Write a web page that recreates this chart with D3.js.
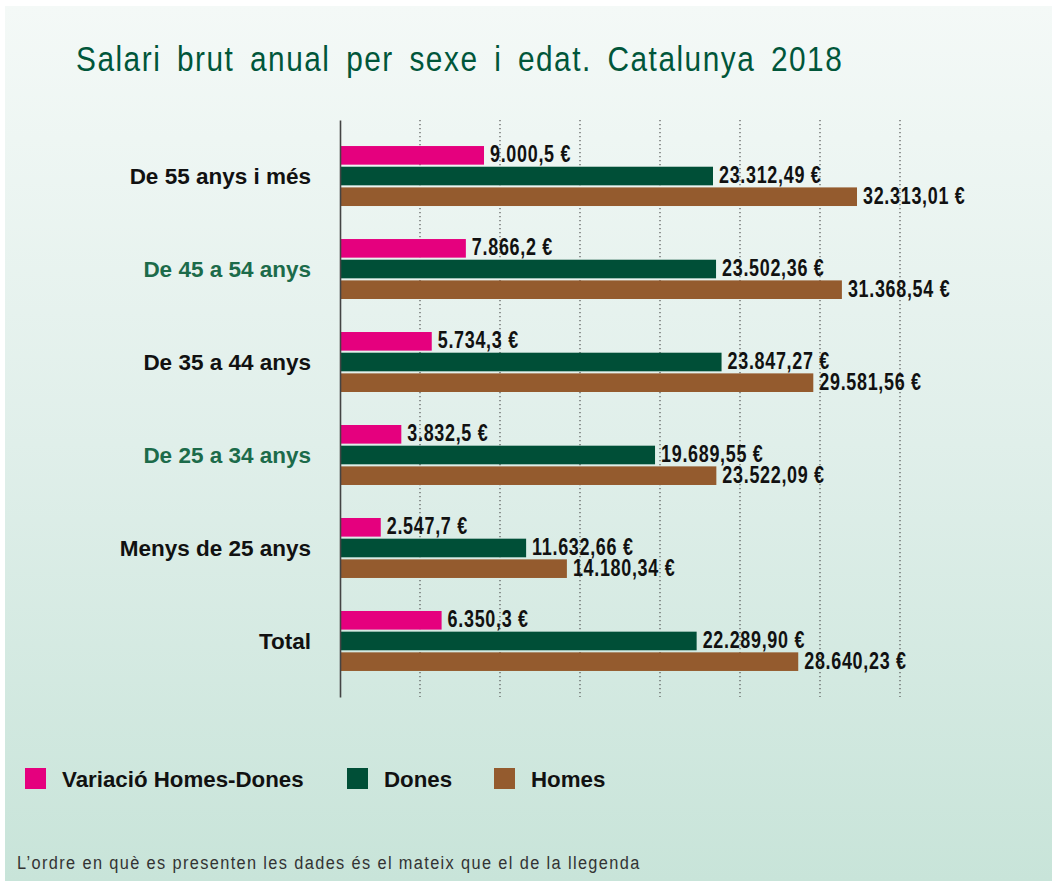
<!DOCTYPE html>
<html>
<head>
<meta charset="utf-8">
<script src="https://cdn.jsdelivr.net/npm/d3@7"></script>
<style>
  body { margin: 0; background: #fff; }
  svg { display: block; }
</style>
</head>
<body>
<script>
// data
var categories = ["De 55 anys i més", "De 45 a 54 anys", "De 35 a 44 anys", "De 25 a 34 anys", "Menys de 25 anys", "Total"]
var series = ["Variació Homes-Dones", "Dones", "Homes"]
var variacio = [9000.5, 7866.2, 5734.3, 3832.5, 2547.7, 6350.3]
var dones = [23312.49, 23502.36, 23847.27, 19689.55, 11632.66, 22289.90]
var homes = [32313.01, 31368.54, 29581.56, 23522.09, 14180.34, 28640.23]
var gridTicks = [5000, 10000, 15000, 20000, 25000, 30000, 35000]

var colors = {"Variació Homes-Dones": "#e5007e", "Dones": "#004f37", "Homes": "#945b2e"}
var decimals = {"Variació Homes-Dones": 1, "Dones": 2, "Homes": 2}
var greenCats = ["De 45 a 54 anys", "De 25 a 34 anys"]

var rows = categories.map(function(c, i) {
  return {cat: c, values: [
    {s: series[0], v: variacio[i]},
    {s: series[1], v: dones[i]},
    {s: series[2], v: homes[i]}
  ]}
})

var ca = d3.formatLocale({decimal: ",", thousands: ".", grouping: [3], currency: ["", ""]})
var fmt1 = ca.format(",.1f"), fmt2 = ca.format(",.2f")

var W = 1052, H = 881
var font = "'Liberation Sans', Arial, Helvetica, sans-serif"

var svg = d3.select("body").append("svg")
  .attr("width", W).attr("height", H)

// background gradient panel
var grad = svg.append("defs").append("linearGradient")
  .attr("id", "bg").attr("x1", 0).attr("y1", 0).attr("x2", 0).attr("y2", 1)
grad.append("stop").attr("offset", "0%").attr("stop-color", "#f4f9f7")
grad.append("stop").attr("offset", "50%").attr("stop-color", "#e0efea")
grad.append("stop").attr("offset", "100%").attr("stop-color", "#c8e4d9")

svg.append("rect")
  .attr("x", 5).attr("y", 6).attr("width", W - 5).attr("height", H - 6)
  .attr("fill", "url(#bg)")

// title (squeezed horizontally to fake a condensed face)
svg.append("text")
  .attr("transform", "translate(76,71) scale(0.84,1)")
  .attr("font-family", font)
  .attr("font-size", 35.5)
  .attr("letter-spacing", 1.8)
  .attr("word-spacing", 7)
  .attr("fill", "#00563a")
  .text("Salari brut anual per sexe i edat. Catalunya 2018")

var xScale = d3.scaleLinear().domain([0, 35000]).range([340, 900])

var yScale = d3.scaleBand()
  .domain(categories)
  .range([120, 697])
  .paddingInner(0.355)
  .paddingOuter(0.28)

var inner = d3.scaleBand()
  .domain(series)
  .range([0, yScale.bandwidth()])
  .paddingInner(0.1)

// dotted grid
svg.append("g").attr("id", "grid")
  .selectAll("line")
  .data(gridTicks)
  .enter()
  .append("line")
  .attr("x1", function(d) { return xScale(d) })
  .attr("x2", function(d) { return xScale(d) })
  .attr("y1", 120).attr("y2", 697)
  .attr("stroke", "#555")
  .attr("stroke-width", 1.2)
  .attr("stroke-dasharray", "1.2,2.8")

// bars
var groups = svg.append("g").attr("id", "bars")
  .selectAll("g")
  .data(rows)
  .enter()
  .append("g")
  .attr("transform", function(d) { return "translate(0," + yScale(d.cat) + ")" })

groups.selectAll("rect")
  .data(function(d) { return d.values })
  .enter()
  .append("rect")
  .attr("x", xScale(0))
  .attr("y", function(d) { return inner(d.s) })
  .attr("width", function(d) { return xScale(d.v) - xScale(0) })
  .attr("height", inner.bandwidth())
  .attr("fill", function(d) { return colors[d.s] })

groups.selectAll("text")
  .data(function(d) { return d.values })
  .enter()
  .append("text")
  .attr("transform", function(d) {
    return "translate(" + (xScale(d.v) + 6) + "," + (inner(d.s) + inner.bandwidth() / 2 + 7) + ") scale(0.78,1)"
  })
  .attr("font-family", font)
  .attr("font-weight", "bold")
  .attr("font-size", 23)
  .attr("letter-spacing", 0.9)
  .attr("fill", "#111")
  .text(function(d) { return (decimals[d.s] == 1 ? fmt1(d.v) : fmt2(d.v)) + " €" })

// axis line + category labels
var yAxis = d3.axisLeft(yScale).tickSize(0).tickPadding(29)
var ax = svg.append("g")
  .attr("id", "yAxis")
  .attr("transform", "translate(" + xScale(0) + ",0)")
  .call(yAxis)
ax.select(".domain").attr("stroke", "#444").attr("stroke-width", 1.6)
ax.selectAll(".tick text")
  .attr("font-family", font)
  .attr("font-weight", "bold")
  .attr("font-size", 22.5)
  .attr("dy", "0.36em")
  .attr("fill", function(d) { return greenCats.indexOf(d) >= 0 ? "#1c6b4a" : "#111" })

// legend
var legend = svg.append("g").attr("id", "legend")
  .selectAll("g")
  .data(series)
  .enter()
  .append("g")
  .attr("transform", function(d, i) { return "translate(" + [25, 347, 494][i] + ",768)" })

legend.append("rect")
  .attr("width", 21).attr("height", 21)
  .attr("fill", function(d) { return colors[d] })

legend.append("text")
  .attr("x", 37).attr("y", 19)
  .attr("font-family", font)
  .attr("font-weight", "bold")
  .attr("font-size", 22.3)
  .attr("fill", "#111")
  .text(function(d) { return d })

// footnote
svg.append("text")
  .attr("transform", "translate(17,869) scale(0.86,1)")
  .attr("font-family", font)
  .attr("font-size", 19)
  .attr("letter-spacing", 1.6)
  .attr("fill", "#333")
  .text("L’ordre en què es presenten les dades és el mateix que el de la llegenda")
</script>
</body>
</html>
